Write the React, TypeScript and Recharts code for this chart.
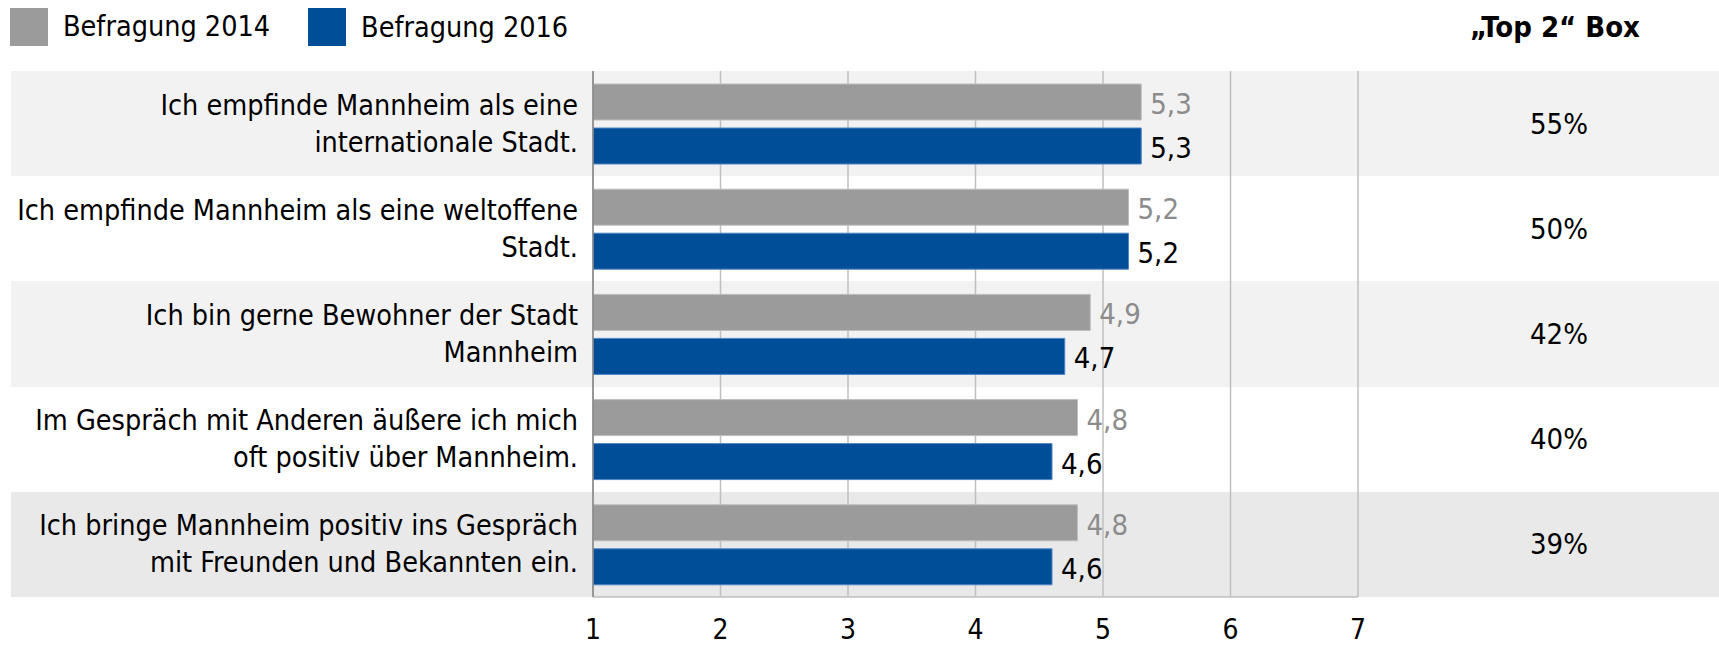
import { Bar, BarChart, CartesianGrid, LabelList, XAxis, YAxis } from "recharts";

const categories = [
  "Ich empfinde Mannheim als eine\ninternationale Stadt.",
  "Ich empfinde Mannheim als eine weltoffene\nStadt.",
  "Ich bin gerne Bewohner der Stadt\nMannheim",
  "Im Gespräch mit Anderen äußere ich mich\noft positiv über Mannheim.",
  "Ich bringe Mannheim positiv ins Gespräch\nmit Freunden und Bekannten ein.",
];
const values2014 = [5.3, 5.2, 4.9, 4.8, 4.8];
const values2016 = [5.3, 5.2, 4.7, 4.6, 4.6];
const top2Box = ["55%", "50%", "42%", "40%", "39%"];
const xTicks = [1, 2, 3, 4, 5, 6, 7];

const FONT = "'DejaVu Sans Condensed', 'DejaVu Sans', sans-serif";
const WIDTH = 1719;
const HEIGHT = 646;
const MARGIN = { top: 71, right: 361, bottom: 0, left: 0 };
const Y_AXIS_WIDTH = 593;
const X_AXIS_HEIGHT = 49;
const PLOT_H = HEIGHT - MARGIN.top - MARGIN.bottom - X_AXIS_HEIGHT;
const BAND_FILLS = ["#F2F2F2", "#FFFFFF", "#F2F2F2", "#FFFFFF", "#E9E9E9"];
const TOP2_X = 1559;

const GRAY = "#9B9B9B";
const BLUE = "#004D98";

const data = categories.map((label, i) => ({
  label,
  y2014: values2014[i],
  y2016: values2016[i],
}));

// stripe boundaries follow the category bands of the y axis
const bandPoints = categories.map((_, i) => MARGIN.top + (i * PLOT_H) / categories.length);

const fmt = (v: number) => String(v).replace(".", ",");

function CategoryTick({ x, y, payload }: any) {
  const idx = categories.indexOf(payload.value);
  const lines = String(payload.value).split("\n");
  return (
    <g>
      <text x={x} y={y} textAnchor="end" fontFamily={FONT} fontSize={28.5} fill="#000">
        {lines.map((line, i) => (
          <tspan key={i} x={x} y={y + (i - (lines.length - 1) / 2) * 37} dominantBaseline="central">
            {line}
          </tspan>
        ))}
      </text>
      <text x={TOP2_X} y={y} textAnchor="middle" dominantBaseline="central" fontFamily={FONT} fontSize={29} fill="#000">
        {top2Box[idx]}
      </text>
    </g>
  );
}

function ValueTick({ x, y, payload }: any) {
  return (
    <text x={x} y={y + 32} textAnchor="middle" dominantBaseline="central" fontFamily={FONT} fontSize={28} fill="#000">
      {payload.value}
    </text>
  );
}

function makeValueLabel(color: string) {
  return (props: any) => {
    const { x, y, width, height, value } = props;
    return (
      <text
        x={Number(x) + Number(width) + 9}
        y={Number(y) + Number(height) / 2 + 2}
        dominantBaseline="central"
        fontFamily={FONT}
        fontSize={29}
        fill={color}
      >
        {fmt(Number(value))}
      </text>
    );
  };
}

const legendItems = [
  { name: "Befragung 2014", color: GRAY },
  { name: "Befragung 2016", color: BLUE },
];

export default function App() {
  return (
    <div style={{ position: "absolute", left: 0, top: 0, width: WIDTH, height: HEIGHT, background: "#fff" }}>
      <div style={{ position: "absolute", left: 10, top: 7, display: "flex", fontFamily: FONT, fontSize: 28.5 }}>
        {legendItems.map((item, i) => (
          <div key={item.name} style={{ display: "flex", alignItems: "center", marginRight: 38, marginTop: i }}>
            <div style={{ width: 38, height: 38, background: item.color, marginRight: 15 }} />
            <span>{item.name}</span>
          </div>
        ))}
      </div>
      <div
        style={{
          position: "absolute",
          left: 1455,
          width: 200,
          top: 10,
          textAlign: "center",
          fontFamily: FONT,
          fontSize: 29,
          fontWeight: "bold",
        }}
      >
        „Top 2“ Box
      </div>
      <BarChart
        width={WIDTH}
        height={HEIGHT}
        data={data}
        layout="vertical"
        margin={MARGIN}
        barCategoryGap="12%"
        barGap={8}
        style={{ position: "absolute", left: 0, top: 0 }}
      >
        <CartesianGrid
          x={11}
          width={WIDTH - 11}
          vertical={false}
          stroke="none"
          horizontalPoints={bandPoints}
          horizontalFill={BAND_FILLS}
        />
        <CartesianGrid horizontal={false} stroke="#BFBFBF" strokeWidth={1.5} />
        <XAxis
          type="number"
          domain={[1, 7]}
          ticks={xTicks}
          allowDataOverflow
          height={X_AXIS_HEIGHT}
          tickLine={false}
          tickSize={0}
          tickMargin={0}
          axisLine={{ stroke: "#BFBFBF", strokeWidth: 1.5 }}
          tick={<ValueTick />}
        />
        <YAxis
          type="category"
          dataKey="label"
          width={Y_AXIS_WIDTH}
          tickLine={false}
          tickSize={0}
          tickMargin={15}
          axisLine={{ stroke: "#868686", strokeWidth: 1.5 }}
          tick={<CategoryTick />}
          interval={0}
        />
        <Bar dataKey="y2014" name="Befragung 2014" fill={GRAY} stroke="#BDBDBD" strokeWidth={1} barSize={36} isAnimationActive={false}>
          <LabelList dataKey="y2014" content={makeValueLabel("#8C8C8C")} />
        </Bar>
        <Bar dataKey="y2016" name="Befragung 2016" fill={BLUE} stroke="#4F86C6" strokeWidth={1} barSize={36} isAnimationActive={false}>
          <LabelList dataKey="y2016" content={makeValueLabel("#000")} />
        </Bar>
      </BarChart>
    </div>
  );
}
